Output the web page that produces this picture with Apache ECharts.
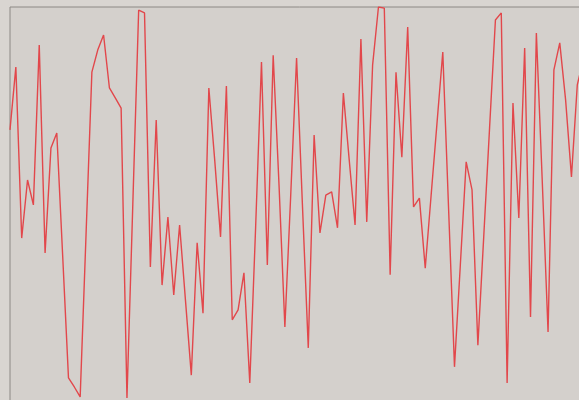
<!DOCTYPE html>
<html>
<head>
<meta charset="utf-8">
<script src="https://cdn.jsdelivr.net/npm/echarts@6/dist/echarts.min.js"></script>
<style>
  html, body { margin: 0; padding: 0; background: #d9d5d1; overflow: hidden; }
  /* the plot runs a little past the window on the right and bottom */
  #chart { width: 590px; height: 404px; }
</style>
</head>
<body>
<div id="chart"></div>
<script>
// 100 samples, index only, no axis labels shown
const categories = []
for (let i = 0; i < 100; i++) categories.push(i)

const values = [
  68.9, 84.8, 41.5, 56.2, 49.9, 90.4, 37.7, 64.3, 68.1, 37.2,
  6.1, 3.8, 1.3, 42.3, 83.5, 89.1, 92.9, 79.5, 77.0, 74.4,
  1.0, 50.1, 99.2, 98.5, 34.2, 71.4, 29.6, 46.8, 27.1, 44.8,
  25.8, 6.8, 40.3, 22.5, 79.5, 61.3, 41.8, 80.0, 20.8, 23.3,
  32.7, 4.8, 44.3, 86.1, 34.7, 87.8, 54.9, 19.0, 52.4, 87.1,
  49.9, 13.7, 67.6, 42.8, 52.4, 53.2, 44.1, 78.2, 61.3, 44.8,
  91.9, 45.6, 85.3, 100, 99.7, 32.2, 83.5, 62.0, 94.9, 49.4,
  51.6, 33.9, 52.2, 70.4, 88.6, 48.6, 8.9, 34.7, 60.8, 53.7,
  14.4, 41.8, 69.4, 96.7, 98.5, 4.8, 75.7, 46.6, 89.6, 21.5,
  93.4, 56.2, 17.7, 84.1, 90.9, 76.5, 57.0, 80.3, 86.6, 63.8
]

const myChart = echarts.init(document.getElementById('chart'))
const option = {
  animation: false,
  grid: {
    show: true,
    left: 10,
    top: 7,
    right: 1,
    bottom: 2,
    backgroundColor: '#d4d0cc',
    borderColor: '#8c8884',
    borderWidth: 1
  },
  xAxis: {
    type: 'category',
    boundaryGap: false,
    data: categories,
    show: false
  },
  yAxis: {
    type: 'value',
    min: 0,
    max: 100,
    show: false
  },
  series: [{
    type: 'line',
    data: values,
    showSymbol: false,
    lineStyle: {
      color: '#e2474b',
      width: 1.4
    }
  }]
}
myChart.setOption(option)
</script>
</body>
</html>
